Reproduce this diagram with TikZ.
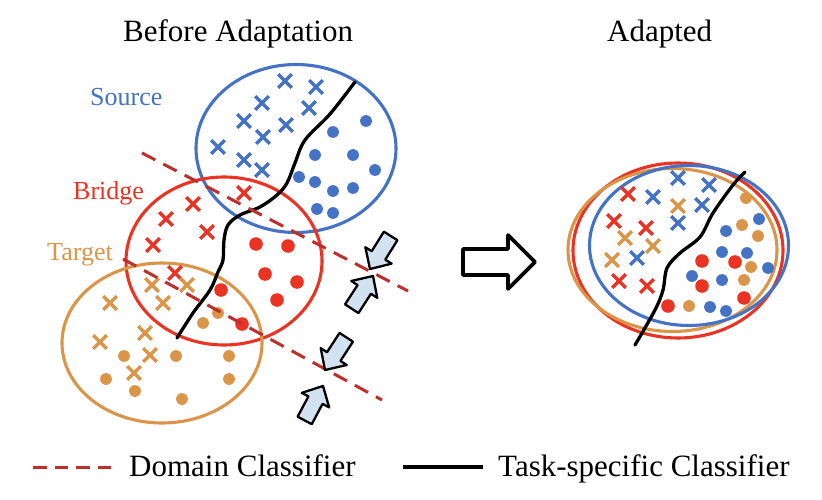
\documentclass[tikz,border=0pt]{standalone}
\usepackage{fontspec}
\setmainfont{Liberation Serif}
\definecolor{cblue}{HTML}{4472C4}
\definecolor{cred}{HTML}{EA3323}
\definecolor{corange}{HTML}{DA9548}
\definecolor{cdash}{HTML}{BC2F2C}
\definecolor{cfill}{HTML}{D3E2F1}
\newcommand\crs[3]{\draw[crossst,#1,shift={(#2,#3)}] (-6.8,-6.8) -- (6.8,6.8) (-6.8,6.8) -- (6.8,-6.8);}
\newcommand\dotb[3]{\fill[#1] (#2,#3) circle (5.9);}
\newcommand\dotr[2]{\fill[cred] (#1,#2) circle (6.8);}
\newcommand\barw[3]{\draw[blkarrow,shift={(#1,#2)},rotate=#3] (0,0) -- (-16,15.5) -- (-16,8) -- (-39,8) -- (-39,-8) -- (-16,-8) -- (-16,-15.5) -- cycle;}
\tikzset{
  crossst/.style={line width=3.2pt},
  ell/.style={line width=3.1pt},
  dcls/.style={cdash, line width=3pt, dash pattern=on 15pt off 9pt},
  task/.style={black, line width=3.3pt, line cap=round},
  blkarrow/.style={draw=black, fill=cfill, line width=2.3pt, line join=round},
  title/.style={inner sep=0pt, anchor=base west, font=\fontsize{31}{36}\selectfont},
  dlabel/.style={inner sep=0pt, anchor=base west, font=\fontsize{26}{30}\selectfont},
}
\begin{document}
\begin{tikzpicture}[x=1pt,y=-1pt]
\useasboundingbox (0,0) rectangle (822,500);
\fill[white] (0,0) rectangle (822,500);
% titles
\node[title] (t1) at (123,41.5) {Before Adaptation};
\node[title] (t2) at (607,41.5) {Adapted};
% labels
\node[dlabel, text=cblue] (lsrc) at (90,106) {Source};
\node[dlabel, text=cred] (lbr) at (73,199) {Bridge};
\node[dlabel, text=corange] (ltg) at (47,260) {Target};
% left ellipses
\draw[cblue, ell] (296,148.5) ellipse [x radius=100, y radius=84];
\draw[cred, ell] (224,261) ellipse [x radius=98, y radius=84];
\draw[corange, ell] (162,343) ellipse [x radius=100, y radius=80];
% source
\crs{cblue}{285}{81}\crs{cblue}{316}{87}\crs{cblue}{262}{103}\crs{cblue}{309}{108}
\crs{cblue}{244}{121}\crs{cblue}{286}{125}\crs{cblue}{263}{137}\crs{cblue}{218}{147}
\crs{cblue}{244}{160}\crs{cblue}{262}{170}
\dotb{cblue}{366}{121}\dotb{cblue}{333}{132}\dotb{cblue}{315}{155}\dotb{cblue}{353}{155}
\dotb{cblue}{375}{170}\dotb{cblue}{299}{177}\dotb{cblue}{315}{182}\dotb{cblue}{333}{191}
\dotb{cblue}{353}{188}\dotb{cblue}{317}{209}\dotb{cblue}{333}{213}
% bridge
\crs{cred}{244}{193}\crs{cred}{193}{204}\crs{cred}{166}{219}\crs{cred}{207}{232}
\crs{cred}{153}{245}\crs{cred}{175}{273}
\dotr{256}{244}\dotr{288}{246}\dotr{265}{274}\dotr{297}{282}\dotr{277}{300}
\dotr{221}{290}\dotr{242}{324}
% target
\crs{corange}{152}{285}\crs{corange}{187}{285}\crs{corange}{163}{303}\crs{corange}{110}{303}
\crs{corange}{145}{333}\crs{corange}{100}{342}\crs{corange}{150}{355}\crs{corange}{134}{373}
\dotb{corange}{218}{313}\dotb{corange}{203}{323}\dotb{corange}{124}{356}\dotb{corange}{176}{356}
\dotb{corange}{229}{356}\dotb{corange}{106}{379}\dotb{corange}{135}{391}\dotb{corange}{229}{379}
\dotb{corange}{182}{399}
% task classifier (left)
\draw[task] plot[smooth, tension=0.55] coordinates {(355,82) (330,114) (305,140) (295,163) (287,183) (277,195) (260,207) (240,215) (228,225) (224,240) (223,260) (218,272) (210,290) (193,313) (177,338)};
% domain classifiers
\coordinate (d1a) at (142,153); \coordinate (d1b) at (408,291);
\coordinate (d2a) at (123,259); \coordinate (d2b) at (382,400);
\draw[dcls] (d1a) -- (d1b);
\draw[dcls] (d2a) -- (d2b);
% block arrows
\barw{370}{269}{238}
\barw{373}{276}{57}
\barw{325}{370}{237}
\barw{323}{386}{62}
% big arrow
\draw[black, fill=white, line width=3.6pt, line join=round] (463,249) -- (508,249) -- (508,235) -- (535,262) -- (508,289) -- (508,275) -- (463,275) -- cycle;
% right ellipses
\draw[cred, ell] (678,250.5) ellipse [x radius=105, y radius=87.5];
\draw[corange, ell] (672.5,250) ellipse [x radius=104.5, y radius=81.5];
\draw[cblue, ell] (689,245.5) ellipse [x radius=99.5, y radius=80];
% right points
\crs{cred}{628}{194}\crs{cred}{614}{221}\crs{cred}{646}{228}\crs{cred}{619}{281}\crs{cred}{647}{286}
\crs{cblue}{653}{197}\crs{cblue}{678}{178}\crs{cblue}{709}{185}\crs{cblue}{702}{205}\crs{cblue}{678}{223}\crs{cblue}{637}{258}
\crs{corange}{678}{206}\crs{corange}{625}{238}\crs{corange}{653}{246}\crs{corange}{612}{260}
\dotb{corange}{746}{198}\dotb{corange}{742}{225}\dotb{corange}{758}{236}\dotb{corange}{751}{267}\dotb{corange}{744}{280}\dotb{corange}{689}{306}
\dotb{cblue}{759}{219}\dotb{cblue}{726}{231}\dotb{cblue}{722}{252}\dotb{cblue}{747}{253}\dotb{cblue}{768}{268}
\dotb{cblue}{692}{276}\dotb{cblue}{722}{280}\dotb{cblue}{710}{307}\dotb{cblue}{726}{311}
\dotr{702}{261}\dotr{735}{262}\dotr{702}{286}\dotr{744}{298}\dotr{668}{306}
% task classifier (right)
\draw[task] plot[smooth, tension=0.55] coordinates {(745,172) (733,185) (713,213) (700,237) (680,253) (667,268) (663,290) (655,310) (635,345)};
% legend
\coordinate (lg1a) at (33,467); \coordinate (lg1b) at (113,467);
\draw[dcls, dash pattern=on 13.5pt off 8pt] (lg1a) -- (lg1b);
\node[title] (lgt1) at (129,476) {Domain Classifier};
\coordinate (lg2a) at (403,467); \coordinate (lg2b) at (483,467);
\draw[black, line width=3.5pt] (lg2a) -- (lg2b);
\node[title] (lgt2) at (498,476) {Task-specific Classifier};
\end{tikzpicture}
\end{document}
